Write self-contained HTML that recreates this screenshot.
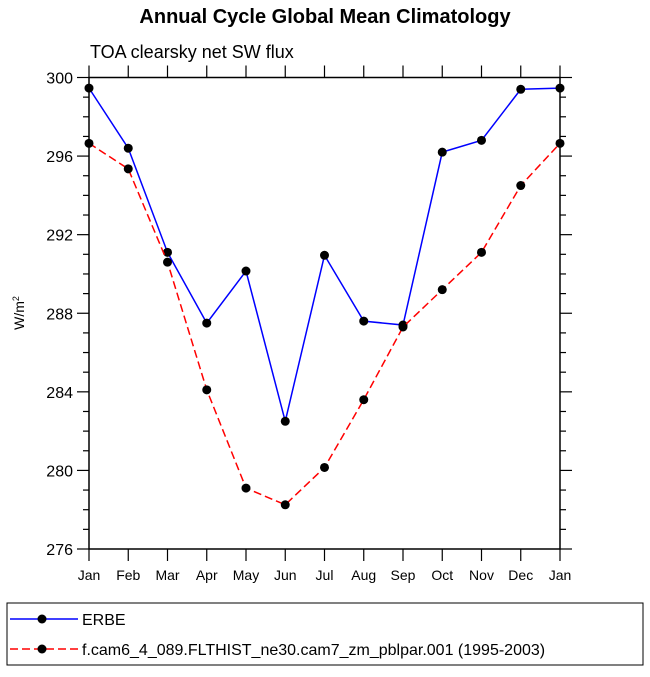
<!DOCTYPE html>
<html><head><meta charset="utf-8"><style>
body{margin:0;background:#fff}
svg text{font-family:"Liberation Sans",Arial,sans-serif;fill:#000}
</style></head><body>
<svg width="650" height="672" viewBox="0 0 650 672">
<text x="325" y="23" text-anchor="middle" font-size="20" font-weight="bold">Annual Cycle Global Mean Climatology</text>
<text x="90" y="58" font-size="18">TOA clearsky net SW flux</text>
<g id="axes"></g>
<g id="series"></g>
<text transform="translate(24,313) rotate(-90)" text-anchor="middle" font-size="14">W/m<tspan dy="-5" font-size="9">2</tspan></text>
<rect x="7" y="603" width="636" height="62" fill="none" stroke="#000" stroke-width="1"/>
<g id="legend"></g>
</svg>
<script>
const months=["Jan","Feb","Mar","Apr","May","Jun","Jul","Aug","Sep","Oct","Nov","Dec","Jan"];
const erbe=[299.46,296.4,291.1,287.5,290.15,282.5,290.95,287.6,287.4,296.2,296.8,299.4,299.46];
const model=[296.65,295.35,290.6,284.1,279.1,278.25,280.15,283.6,287.3,289.2,291.1,294.5,296.65];
const yTicks=[276,280,284,288,292,296,300];
const NS="http://www.w3.org/2000/svg";
const L=89,R=560,T=77.5,B=549,ymin=276,ymax=300;
const xs=i=>L+(R-L)*i/(months.length-1);
const ys=v=>B-(B-T)*(v-ymin)/(ymax-ymin);
function mk(tag,at,parent){const e=document.createElementNS(NS,tag);for(const k in at)e.setAttribute(k,at[k]);parent.appendChild(e);return e;}
const ax=document.getElementById('axes');
let fr=mk('rect',{x:L,y:T,width:R-L,height:B-T,fill:'none',stroke:'#000','stroke-width':1.5},ax);


for(let v=ymin;v<=ymax;v++){
  const major=yTicks.includes(v);const len=major?12:6;const y=ys(v);
  const t1=mk('line',{x1:L-len,x2:L,y1:y,y2:y,stroke:'#000','stroke-width':1.2},ax);
  
  
  const t2=mk('line',{x1:R,x2:R+len,y1:y,y2:y,stroke:'#000','stroke-width':1.2},ax);
  
  
}
yTicks.forEach(v=>{
  const t=mk('text',{x:L-16,y:ys(v)+6,'text-anchor':'end','font-size':16},ax);t.textContent=v;
  
  
});
months.forEach((m,i)=>{
  const x=xs(i);
  const a=mk('line',{x1:x,x2:x,y1:B,y2:B+12,stroke:'#000','stroke-width':1.2},ax);
  
  
  const b=mk('line',{x1:x,x2:x,y1:T-12,y2:T,stroke:'#000','stroke-width':1.2},ax);
  
  
  const t=mk('text',{x:x,y:B+31,'text-anchor':'middle','font-size':14},ax);t.textContent=m;
  
  
});
const sg=document.getElementById('series');
function series(vals,color,dash,name){
  const p=mk('polyline',{points:vals.map((v,i)=>xs(i)+','+ys(v)).join(' '),fill:'none',stroke:color,'stroke-width':1.5,'stroke-dasharray':dash},sg);
  
  
  vals.forEach((v,i)=>{const c=mk('circle',{cx:xs(i),cy:ys(v),r:4.5,fill:'#000'},sg);
    
    });
}
series(erbe,'#0000ff','none','erbe');
series(model,'#ff0000','8,4','model');
const lg=document.getElementById('legend');
[['ERBE','#0000ff','none',619],['f.cam6_4_089.FLTHIST_ne30.cam7_zm_pblpar.001 (1995-2003)','#ff0000','8,4',649]].forEach(([lab,col,d,y],k)=>{
  const l=mk('line',{x1:10,x2:78,y1:y,y2:y,stroke:col,'stroke-width':1.5,'stroke-dasharray':d},lg);
  
  
  const c=mk('circle',{cx:42,cy:y,r:4.5,fill:'#000'},lg);
  
  
  const t=mk('text',{x:82,y:y+6,'font-size':16},lg);t.textContent=lab;
  
  
});
</script>
</body></html>
